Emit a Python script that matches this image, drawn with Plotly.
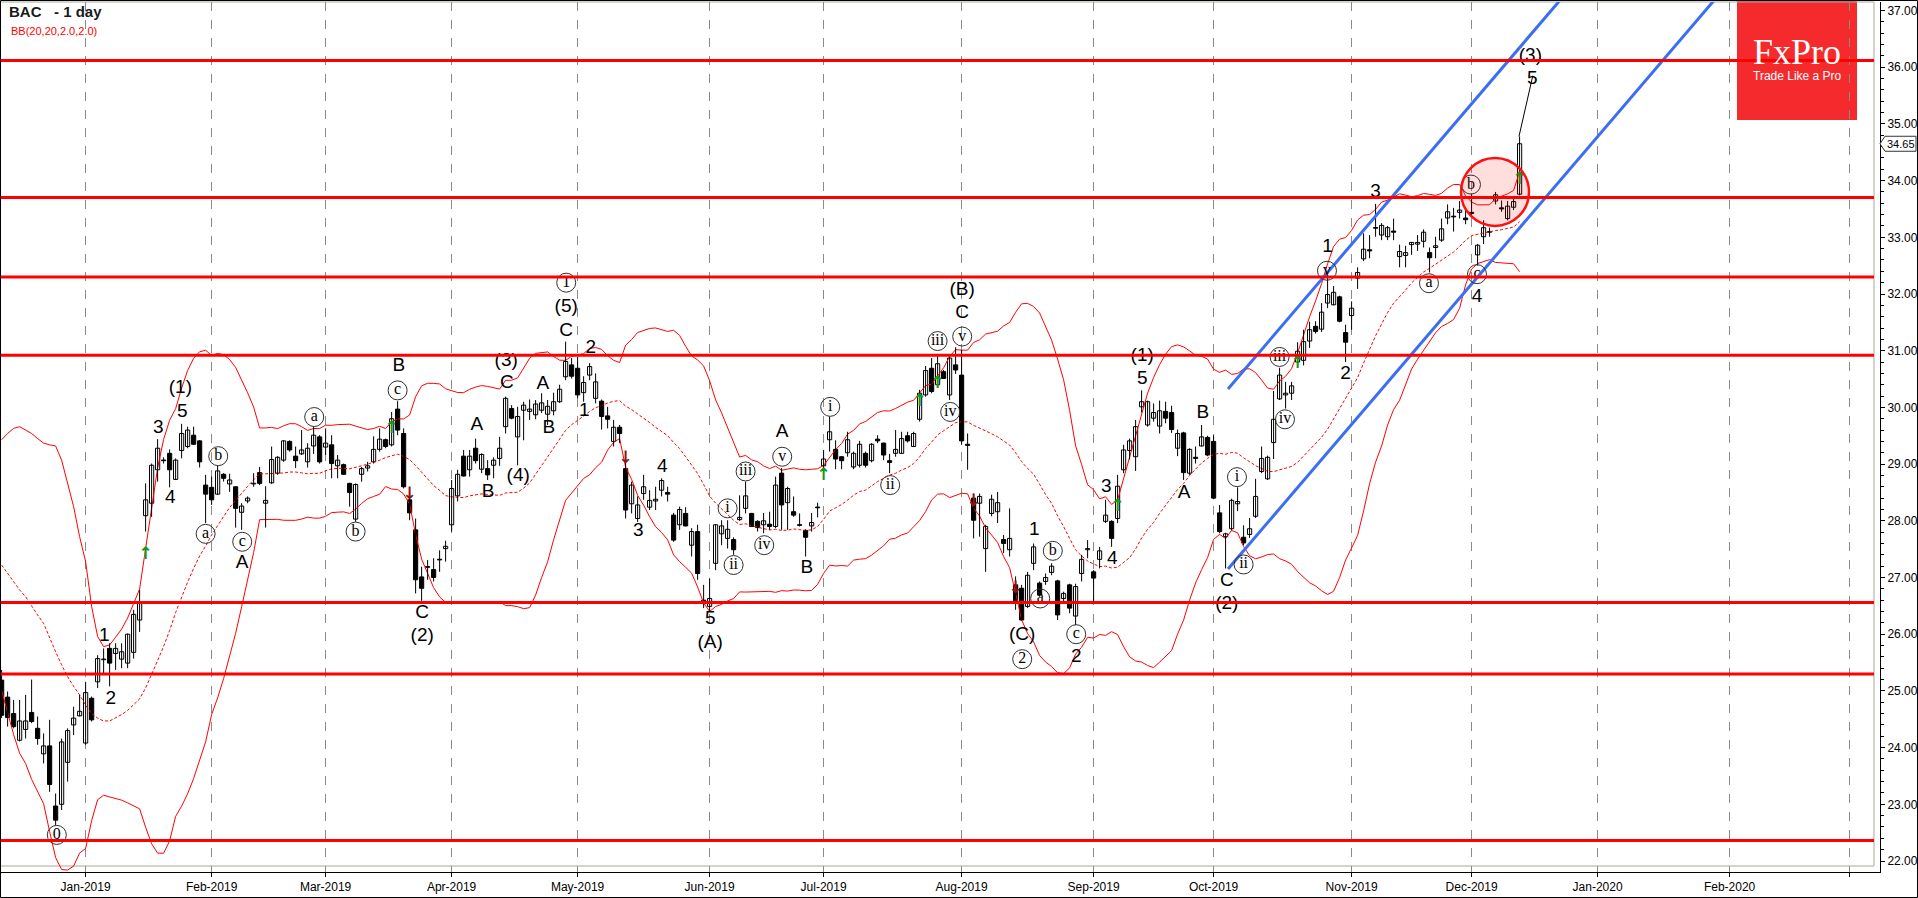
import plotly.graph_objects as go
import pandas as pd

# ---------------- data ----------------
bar_index = list(range(-14, 240))  # trading-day index, 0 = 2 Jan 2019

open_ = [25.19, 24.89, 24.60, 24.13, 24.32, 24.62, 24.34, 23.89, 24.03, 22.97, 23.00, 23.74, 24.40, 24.56,
         24.08, 24.87, 25.16, 25.55, 25.75, 25.66, 25.56, 25.49, 25.68, 26.25, 28.09, 28.31, 28.90, 29.07,
         29.19, 28.73, 29.24, 29.31, 29.51, 29.41, 28.63, 28.59, 28.47, 28.82, 28.65, 28.60, 28.15, 28.35,
         28.65, 28.85, 28.31, 28.67, 28.84, 29.07, 29.40, 29.14, 29.18, 29.04, 29.32, 29.48, 29.30, 29.34,
         28.97, 28.99, 28.66, 28.03, 28.82, 28.93, 29.04, 29.26, 29.43, 29.34, 29.97, 29.54, 28.37, 27.84,
         27.01, 27.19, 27.14, 27.32, 27.51, 27.93, 28.44, 29.14, 28.90, 29.28, 28.91, 28.92, 28.98, 29.10,
         29.66, 29.98, 29.48, 29.95, 29.93, 29.87, 29.95, 29.88, 29.94, 30.10, 30.54, 30.75, 30.69, 30.26,
         30.57, 30.16, 30.11, 29.85, 29.40, 29.65, 28.92, 28.30, 28.04, 28.48, 28.24, 28.35, 28.54, 28.50,
         28.10, 27.93, 28.13, 27.57, 27.81, 26.60, 26.49, 27.25, 27.77, 27.69, 27.67, 28.02, 28.22, 28.13,
         27.99, 27.93, 27.94, 27.90, 28.84, 28.32, 28.16, 27.93, 27.83, 27.91, 28.24, 28.97, 29.43, 29.26,
         29.13, 29.20, 28.95, 28.98, 29.19, 29.06, 29.44, 29.37, 29.06, 29.19, 29.19, 29.50, 29.31, 29.79,
         30.22, 30.69, 30.40, 30.63, 30.22, 30.75, 30.57, 29.35, 28.40, 28.31, 27.51, 28.13, 28.16, 27.67,
         27.49, 26.87, 26.81, 26.49, 27.25, 26.90, 26.93, 27.09, 26.94, 26.63, 26.87, 26.32, 27.07, 27.49,
         27.10, 27.32, 27.99, 27.99, 28.04, 28.90, 29.24, 29.13, 30.01, 29.69, 29.81, 29.67, 29.93, 29.91,
         29.28, 29.55, 28.84, 29.12, 29.32, 29.47, 29.40, 28.14, 27.72, 27.86, 28.30, 27.71, 27.76, 28.08,
         28.87, 28.74, 29.38, 30.15, 30.22, 30.25, 30.80, 30.83, 31.17, 31.43, 31.38, 31.84, 31.81, 31.95,
         31.32, 31.62, 32.28, 32.62, 32.78, 33.17, 33.04, 33.01, 33.11, 32.66, 32.68, 32.87, 32.88, 32.93,
         32.73, 32.82, 32.95, 33.34, 33.37, 33.44, 33.34, 33.44, 32.69, 33.01, 33.10, 33.64, 33.52, 33.33,
         33.53, 33.76]
high_ = [25.37, 24.99, 24.84, 24.84, 24.93, 25.20, 24.55, 24.25, 24.49, 23.19, 24.16, 24.34, 24.72, 24.93,
         25.16, 24.90, 25.63, 25.75, 25.84, 25.84, 25.84, 26.01, 26.43, 26.78, 28.66, 29.01, 29.44, 29.12,
         29.26, 29.10, 29.71, 29.66, 29.66, 29.42, 28.81, 28.78, 28.97, 28.84, 28.83, 28.61, 28.31, 28.43,
         28.84, 28.95, 28.61, 29.31, 29.14, 29.42, 29.42, 29.31, 29.60, 29.37, 29.66, 29.51, 29.63, 29.51,
         29.16, 29.01, 28.67, 28.66, 28.95, 29.04, 29.49, 29.63, 29.45, 29.92, 30.11, 29.63, 28.48, 28.04,
         27.19, 27.31, 27.34, 27.48, 27.65, 28.72, 28.90, 29.25, 29.25, 29.45, 29.19, 29.07, 29.12, 29.48,
         30.19, 30.04, 30.01, 30.10, 30.14, 30.13, 30.25, 30.13, 30.26, 30.40, 31.16, 30.87, 30.89, 30.55,
         30.78, 30.60, 30.14, 30.01, 29.78, 29.69, 29.07, 28.69, 28.43, 28.81, 28.54, 28.60, 28.75, 28.60,
         28.14, 28.25, 28.24, 27.87, 27.93, 26.87, 26.98, 27.94, 28.01, 28.01, 27.71, 28.45, 28.69, 28.14,
         28.01, 28.14, 28.16, 28.78, 28.93, 28.60, 28.43, 28.13, 27.85, 28.14, 28.32, 29.25, 29.84, 29.42,
         29.14, 29.57, 29.22, 29.41, 29.22, 29.37, 29.51, 29.38, 29.18, 29.60, 29.57, 29.57, 29.57, 30.31,
         30.73, 30.87, 30.94, 30.66, 30.90, 31.06, 31.01, 29.54, 28.48, 28.48, 27.93, 28.46, 28.51, 27.75,
         28.22, 27.02, 26.87, 27.10, 27.60, 26.93, 27.07, 27.25, 26.96, 26.75, 26.89, 26.89, 27.40, 27.66,
         27.13, 27.54, 28.37, 28.01, 28.81, 29.34, 29.45, 29.78, 30.30, 30.12, 30.07, 30.12, 30.10, 30.03,
         29.61, 29.57, 29.28, 29.31, 29.69, 29.50, 29.51, 28.28, 27.79, 28.39, 28.59, 27.92, 28.05, 28.74,
         29.31, 29.15, 30.29, 30.70, 30.45, 30.45, 31.15, 31.37, 31.51, 31.52, 31.84, 32.38, 32.14, 31.97,
         31.46, 31.87, 32.47, 33.07, 33.04, 33.59, 33.25, 33.20, 33.33, 32.87, 32.85, 32.91, 33.04, 33.14,
         32.82, 33.01, 33.33, 33.58, 33.52, 33.64, 33.48, 33.77, 32.88, 33.30, 33.17, 33.80, 33.65, 33.64,
         33.71, 34.78]
low_ = [24.52, 24.37, 24.34, 24.11, 24.16, 24.43, 24.05, 23.72, 23.22, 22.63, 22.90, 23.40, 24.22, 24.55,
        24.05, 24.46, 25.05, 25.28, 25.08, 25.37, 25.40, 25.40, 25.57, 26.04, 27.81, 28.07, 28.69, 29.01,
        28.59, 28.72, 29.10, 29.28, 29.34, 28.94, 27.96, 28.28, 28.46, 28.69, 28.51, 27.88, 27.84, 28.31,
        28.60, 28.63, 27.88, 28.65, 28.81, 29.04, 29.22, 28.93, 29.16, 28.94, 29.18, 29.01, 29.16, 28.75,
        28.75, 28.81, 28.25, 27.98, 28.69, 28.87, 29.01, 29.22, 29.28, 29.31, 29.51, 28.57, 28.01, 26.72,
        26.59, 26.96, 26.93, 27.10, 27.28, 27.81, 28.34, 28.78, 28.78, 29.01, 28.84, 28.72, 28.75, 28.97,
        29.54, 29.79, 28.98, 29.42, 29.78, 29.79, 29.90, 29.69, 29.86, 30.08, 30.48, 30.51, 30.16, 30.10,
        30.48, 30.07, 29.61, 29.63, 29.31, 29.37, 28.04, 28.13, 27.98, 28.37, 28.19, 28.19, 28.43, 28.34,
        27.63, 27.84, 27.90, 27.37, 26.96, 26.46, 26.40, 27.13, 27.57, 27.51, 27.40, 28.00, 28.13, 27.89,
        27.81, 27.78, 27.84, 27.87, 27.84, 27.84, 28.07, 27.90, 27.37, 27.81, 28.06, 28.90, 29.22, 28.91,
        28.91, 29.13, 28.91, 28.94, 28.94, 29.03, 29.37, 29.07, 28.84, 29.13, 29.18, 29.38, 29.30, 29.75,
        30.19, 30.25, 30.37, 30.50, 30.13, 30.59, 29.34, 28.90, 27.69, 27.72, 27.10, 28.08, 27.96, 27.43,
        27.37, 26.43, 26.24, 26.46, 27.13, 26.66, 26.87, 27.04, 26.25, 26.55, 26.37, 26.16, 26.93, 27.34,
        26.57, 27.16, 27.96, 27.54, 27.96, 28.84, 29.08, 28.88, 29.91, 29.66, 29.75, 29.54, 29.72, 29.55,
        29.14, 28.72, 28.81, 29.01, 29.31, 29.14, 28.38, 27.78, 27.16, 27.83, 28.17, 27.57, 27.70, 28.05,
        28.84, 28.72, 29.09, 30.13, 29.98, 30.13, 30.74, 30.74, 31.05, 31.30, 31.33, 31.75, 31.80, 31.50,
        30.80, 31.37, 32.09, 32.58, 32.63, 33.01, 32.95, 32.95, 32.95, 32.47, 32.47, 32.69, 32.76, 32.82,
        32.38, 32.63, 32.92, 33.23, 33.10, 33.33, 33.23, 33.39, 32.50, 32.88, 33.01, 33.58, 33.45, 33.30,
        33.48, 33.74]
close_ = [24.57, 24.53, 24.37, 24.47, 24.47, 24.46, 24.16, 24.03, 23.35, 22.72, 24.10, 24.30, 24.52, 24.64,
          24.97, 24.49, 25.57, 25.56, 25.49, 25.75, 25.69, 26.00, 26.35, 26.54, 28.37, 28.98, 29.28, 29.06,
          28.90, 29.07, 29.54, 29.60, 29.35, 29.04, 28.47, 28.37, 28.88, 28.75, 28.72, 28.22, 28.26, 28.40,
          28.66, 28.66, 28.36, 29.08, 29.12, 29.41, 29.25, 29.06, 29.25, 29.28, 29.51, 29.04, 29.37, 29.01,
          29.07, 28.82, 28.50, 28.64, 28.92, 28.97, 29.26, 29.44, 29.31, 29.80, 29.60, 28.60, 28.14, 26.96,
          26.81, 27.18, 27.00, 27.31, 27.55, 28.57, 28.82, 28.79, 29.14, 29.06, 29.17, 28.81, 29.07, 29.28,
          30.16, 29.81, 29.84, 30.04, 29.97, 30.06, 30.08, 30.02, 30.10, 30.32, 30.81, 30.55, 30.22, 30.44,
          30.72, 30.45, 29.84, 29.79, 29.65, 29.54, 28.19, 28.63, 28.28, 28.60, 28.36, 28.38, 28.71, 28.47,
          27.66, 28.20, 27.91, 27.81, 27.07, 26.57, 26.63, 27.93, 27.91, 27.85, 27.49, 28.06, 28.44, 27.90,
          27.88, 28.00, 27.90, 28.63, 28.28, 28.57, 28.10, 27.92, 27.71, 27.97, 28.23, 29.09, 29.57, 29.09,
          29.06, 29.43, 29.19, 29.35, 28.98, 29.35, 29.41, 29.16, 29.03, 29.26, 29.45, 29.41, 29.54, 30.25,
          30.65, 30.28, 30.77, 30.51, 30.87, 30.66, 29.41, 29.33, 28.01, 28.43, 27.90, 28.38, 28.32, 27.60,
          27.69, 26.57, 26.25, 27.04, 27.54, 26.69, 27.00, 27.20, 26.34, 26.72, 26.46, 26.84, 27.32, 27.51,
          26.99, 27.47, 28.10, 27.69, 28.61, 29.25, 29.41, 29.66, 30.10, 30.10, 29.91, 29.94, 29.81, 29.61,
          29.54, 28.85, 29.26, 29.10, 29.48, 29.16, 28.40, 27.81, 27.77, 28.36, 28.34, 27.61, 27.86, 28.43,
          29.10, 29.12, 29.79, 30.57, 30.25, 30.38, 30.99, 31.16, 31.37, 31.34, 31.68, 31.99, 32.03, 31.52,
          31.15, 31.75, 32.38, 32.79, 32.76, 33.16, 33.21, 33.17, 33.09, 32.75, 32.73, 32.91, 32.91, 33.09,
          32.64, 32.85, 33.15, 33.45, 33.36, 33.48, 33.31, 33.42, 32.86, 33.17, 33.09, 33.75, 33.50, 33.55,
          33.63, 34.65]

# Bollinger band values visible before 20 closes exist (bars -14..4)
bb_upper_head = [29.43, 29.54, 29.63, 29.66, 29.60, 29.54, 29.45, 29.37, 29.34, 29.32,
                 29.07, 28.66, 28.25, 27.72, 27.28, 26.49, 25.96, 25.78, 25.81]
bb_mid_head = [27.22, 27.07, 26.93, 26.78, 26.66, 26.49, 26.34, 26.19, 25.93, 25.69,
               25.46, 25.25, 25.08, 24.93, 24.75, 24.60, 24.52, 24.47, 24.47]
bb_lower_head = [25.01, 24.60, 24.23, 23.90, 23.72, 23.44, 23.23, 23.01, 22.52, 22.06,
                 21.85, 21.84, 21.91, 22.14, 22.22, 22.71, 23.08, 23.16, 23.13]

month_ticks = [0, 21, 40, 61, 82, 104, 123, 146, 168, 188, 211, 231, 252, 274, 294]
month_labels = ["Jan-2019", "Feb-2019", "Mar-2019", "Apr-2019", "May-2019", "Jun-2019", "Jul-2019",
                "Aug-2019", "Sep-2019", "Oct-2019", "Nov-2019", "Dec-2019", "Jan-2020", "Feb-2020", ""]

levels = [36.12, 33.70, 32.30, 30.92, 26.56, 25.30, 22.36]

channel_upper_x = [190.4, 246.7]
channel_upper_y = [30.325, 37.30]
channel_lower_x = [190.4, 272.4]
channel_lower_y = [27.15, 37.30]
connector_x = [238.9, 241.2]
connector_y = [34.78, 35.85]

wave_x = [15.8, 16.1, 12.1, 14.1, 26.1, 3.1, 4.2,
          52.2, 56.1, 56.1, 65.2, 67.1, 70.1, 70.2, 72.1, 76.2, 77.2, 80.1, 80.1, 84.2, 83.1, 92.1,
          96.1, 104.1, 104.1, 116.1, 120.2, 146.1, 146.1,
          158.1, 156.1, 165.1, 170.1, 171.1, 176.1, 176.1, 186.2, 183.1, 190.2, 190.2,
          207.0, 210.0, 215.0, 231.9, 240.8, 241.1]
wave_y = [30.33, 29.91, 29.63, 28.40, 27.25, 25.97, 24.85,
          30.72, 26.37, 25.96, 29.69, 28.51, 30.81, 30.42, 28.78, 30.41, 29.63, 31.76, 31.34, 31.04, 29.93, 27.81,
          28.94, 26.26, 25.84, 29.57, 27.16, 31.66, 32.07,
          27.84, 25.99, 25.59, 28.60, 27.33, 30.90, 30.50, 29.90, 28.48, 26.93, 26.52,
          32.82, 30.59, 33.80, 31.94, 36.20, 35.79]
wave_txt = ["(1)", "5", "3", "4", "A", "1", "2",
            "B", "C", "(2)", "A", "B", "(3)", "C", "(4)", "A", "B", "(5)", "C", "2", "1", "3",
            "4", "5", "(A)", "A", "B", "C", "(B)",
            "1", "(C)", "2", "3", "4", "(1)", "5", "B", "A", "C", "(2)",
            "1", "2", "3", "4", "(3)", "5"]

circ_x = [-4.8, 22.1, 20.0, 26.1, 38.1,
          45.0, 52.0, 80.1,
          107.0, 108.0, 110.0, 113.1, 116.1, 124.1, 134.1, 142.0, 144.1, 146.1,
          161.2, 159.1, 156.1, 165.1,
          191.9, 193.0, 199.0, 199.9, 206.9, 223.9, 230.9, 231.9]
circ_y = [22.46, 29.14, 27.77, 27.63, 29.83,
          27.81, 30.30, 32.20,
          28.22, 27.22, 28.87, 27.57, 29.13, 30.01, 28.63, 31.17, 29.92, 31.25,
          27.47, 26.63, 25.56, 26.00,
          28.77, 27.23, 30.89, 29.79, 32.41, 32.19, 33.93, 32.35]
circ_txt = ["0", "b", "a", "c", "a",
            "b", "c", "1",
            "i", "ii", "iii", "iv", "v", "i", "ii", "iii", "iv", "v",
            "b", "a", "2", "c",
            "i", "ii", "iii", "iv", "v", "a", "b", "c"]

buy_x = [10, 51, 123, 139, 142, 172, 202, 239]
buy_y = [27.40, 29.63, 28.79, 30.10, 30.42, 28.25, 30.77, 34.02]
sell_x = [54, 90, 148, 155]
sell_y = [28.46, 29.10, 28.34, 26.81]

focus_center = (234.9, 33.80)
last_price = 34.65

# ---------------- figure ----------------
W, H = 1918, 898
ML, MR, MT, MB = 0, 38, 2, 26
PW, PH = W - ML - MR, H - MT - MB
X_RANGE = [-14.27, 299.07]
Y_RANGE = [21.806, 37.15]
PX_PER_BAR = PW / (X_RANGE[1] - X_RANGE[0])
PX_PER_USD = PH / (Y_RANGE[1] - Y_RANGE[0])


def pxx(px):
    return (px - ML) / PW


def pxy(py):
    return 1 - (py - MT) / PH


closes = pd.Series(close_, index=bar_index)
mid = closes.rolling(20).mean()
sd = closes.rolling(20).std(ddof=0)
upper = mid + 2 * sd
lower = mid - 2 * sd
n_head = len(bb_upper_head)
upper.iloc[:n_head] = bb_upper_head
mid.iloc[:n_head] = bb_mid_head
lower.iloc[:n_head] = bb_lower_head

fig = go.Figure()

fig.add_trace(go.Scatter(x=bar_index, y=upper, mode="lines", line=dict(color="#ff0000", width=1),
                         hoverinfo="skip", showlegend=False))
fig.add_trace(go.Scatter(x=bar_index, y=lower, mode="lines", line=dict(color="#ff0000", width=1),
                         hoverinfo="skip", showlegend=False))
fig.add_trace(go.Scatter(x=bar_index, y=mid, mode="lines",
                         line=dict(color="#ff0000", width=1, dash="3px,2px"),
                         hoverinfo="skip", showlegend=False))

# candles: wicks as segments, bodies as bars
wick_x, wick_y = [], []
for xi, h, l in zip(bar_index, high_, low_):
    wick_x += [xi, xi, None]
    wick_y += [l, h, None]
fig.add_trace(go.Scatter(x=wick_x, y=wick_y, mode="lines", line=dict(color="black", width=1),
                         hoverinfo="skip", showlegend=False))
body_base = [min(o, c) for o, c in zip(open_, close_)]
body_h = [max(abs(c - o), 0.012) for o, c in zip(open_, close_)]
body_col = ["white" if c >= o else "black" for o, c in zip(open_, close_)]
fig.add_trace(go.Bar(x=bar_index, y=body_h, base=body_base, width=0.7,
                     marker=dict(color=body_col, line=dict(color="black", width=1)),
                     hoverinfo="skip", showlegend=False))

fig.add_trace(go.Scatter(x=channel_upper_x, y=channel_upper_y, mode="lines",
                         line=dict(color="#3c6ef2", width=3), showlegend=False, hoverinfo="skip"))
fig.add_trace(go.Scatter(x=channel_lower_x, y=channel_lower_y, mode="lines",
                         line=dict(color="#3c6ef2", width=3), showlegend=False, hoverinfo="skip"))
fig.add_trace(go.Scatter(x=connector_x, y=connector_y, mode="lines",
                         line=dict(color="black", width=1), showlegend=False, hoverinfo="skip"))

fig.add_trace(go.Scatter(x=buy_x, y=buy_y, mode="text", text=["<b>↑</b>"] * len(buy_x),
                         textfont=dict(family="DejaVu Sans", size=17, color="#12991a"),
                         showlegend=False, hoverinfo="skip"))
fig.add_trace(go.Scatter(x=sell_x, y=sell_y, mode="text", text=["<b>↓</b>"] * len(sell_x),
                         textfont=dict(family="DejaVu Sans", size=17, color="#8b1515"),
                         showlegend=False, hoverinfo="skip"))

fig.add_trace(go.Scatter(x=wave_x, y=wave_y, mode="text", text=wave_txt, textposition="middle center",
                         textfont=dict(family="Liberation Sans", size=19, color="black"),
                         showlegend=False, hoverinfo="skip"))
fig.add_trace(go.Scatter(x=circ_x, y=circ_y, mode="markers+text", text=circ_txt,
                         textposition="middle center",
                         marker=dict(symbol="circle", size=19, color="rgba(255,255,255,0)",
                                     line=dict(color="#303030", width=1)),
                         textfont=dict(family="Liberation Serif", size=16, color="black"),
                         showlegend=False, hoverinfo="skip"))

shapes = []
# FxPro badge
shapes.append(dict(type="rect", xref="paper", yref="paper", x0=pxx(1737), x1=pxx(1857),
                   y0=pxy(120), y1=pxy(0), fillcolor="#f52a2d", line=dict(width=0), layer="below"))
# grey inner frame
shapes.append(dict(type="rect", xref="paper", yref="paper", x0=pxx(0.5), x1=pxx(1874),
                   y0=pxy(866), y1=pxy(2), line=dict(color="#a9a99c", width=1), layer="below"))
# horizontal levels
for lv in levels:
    shapes.append(dict(type="line", xref="paper", yref="y", x0=0, x1=pxx(1874), y0=lv, y1=lv,
                       line=dict(color="#ff0000", width=3), layer="above"))
# highlighted zone
rx, ry = 34 / PX_PER_BAR, 34 / PX_PER_USD
shapes.append(dict(type="circle", xref="x", yref="y",
                   x0=focus_center[0] - rx, x1=focus_center[0] + rx,
                   y0=focus_center[1] - ry, y1=focus_center[1] + ry,
                   fillcolor="rgba(255,0,0,0.13)", line=dict(color="#ff1010", width=2.5), layer="above"))
# last price tag
th = 7.5 / PX_PER_USD
shapes.append(dict(type="path", xref="paper", yref="y",
                   path=(f"M {pxx(1880)},{last_price} L {pxx(1885)},{last_price + th} "
                         f"L {pxx(1916)},{last_price + th} L {pxx(1916)},{last_price - th} "
                         f"L {pxx(1885)},{last_price - th} Z"),
                   fillcolor="white", line=dict(color="#333", width=1), layer="above"))
# outer border
shapes.append(dict(type="rect", xref="paper", yref="paper", x0=pxx(0.5), x1=pxx(1917.5),
                   y0=pxy(897.5), y1=pxy(0.5), line=dict(color="black", width=1), layer="above"))

annotations = [
    dict(xref="paper", yref="paper", x=pxx(7), y=pxy(12), xanchor="left", yanchor="middle",
         text="<b>BAC   - 1 day</b>", showarrow=False,
         font=dict(family="Liberation Sans", size=15, color="#1a1a1a")),
    dict(xref="paper", yref="paper", x=pxx(9), y=pxy(31), xanchor="left", yanchor="middle",
         text="BB(20,20,2.0,2.0)", showarrow=False,
         font=dict(family="Liberation Sans", size=11, color="#ff0000")),
    dict(xref="paper", yref="paper", x=pxx(1797), y=pxy(52), xanchor="center", yanchor="middle",
         text="FxPro", showarrow=False,
         font=dict(family="Liberation Serif", size=36, color="white")),
    dict(xref="paper", yref="paper", x=pxx(1797), y=pxy(76), xanchor="center", yanchor="middle",
         text="Trade Like a Pro", showarrow=False,
         font=dict(family="Liberation Sans", size=12, color="white")),
    dict(xref="paper", yref="y", x=pxx(1900.5), y=last_price, xanchor="center", yanchor="middle",
         text=f"{last_price:.2f}", showarrow=False,
         font=dict(family="Liberation Sans", size=11, color="black")),
]

fig.update_layout(
    width=W, height=H, margin=dict(l=ML, r=MR, t=MT, b=MB, pad=0),
    paper_bgcolor="white", plot_bgcolor="white", showlegend=False, barmode="overlay",
    shapes=shapes, annotations=annotations,
    font=dict(family="Liberation Sans", size=12, color="black"),
    xaxis=dict(range=X_RANGE, tickmode="array", tickvals=month_ticks, ticktext=month_labels,
               showgrid=True, gridcolor="#8a8a8a", griddash="dash", gridwidth=1,
               showline=True, linecolor="black", linewidth=1, ticks="outside", ticklen=4,
               tickcolor="black", zeroline=False,
               tickfont=dict(family="Liberation Sans", size=12, color="black"), fixedrange=True),
    yaxis=dict(range=Y_RANGE, side="right", tickmode="linear", tick0=22, dtick=1, tickformat=".2f",
               showgrid=False, zeroline=False, showline=True, linecolor="black", linewidth=1,
               ticks="outside", ticklen=4, tickcolor="black",
               minor=dict(dtick=0.2, tick0=22, ticks="outside", ticklen=3, tickcolor="black", showgrid=False),
               tickfont=dict(family="Liberation Sans", size=12, color="black"), fixedrange=True),
)

fig.write_html("out.html", include_plotlyjs=True, config={"displayModeBar": False},
               post_script="document.body.style.margin='0';document.body.style.overflow='hidden';")
